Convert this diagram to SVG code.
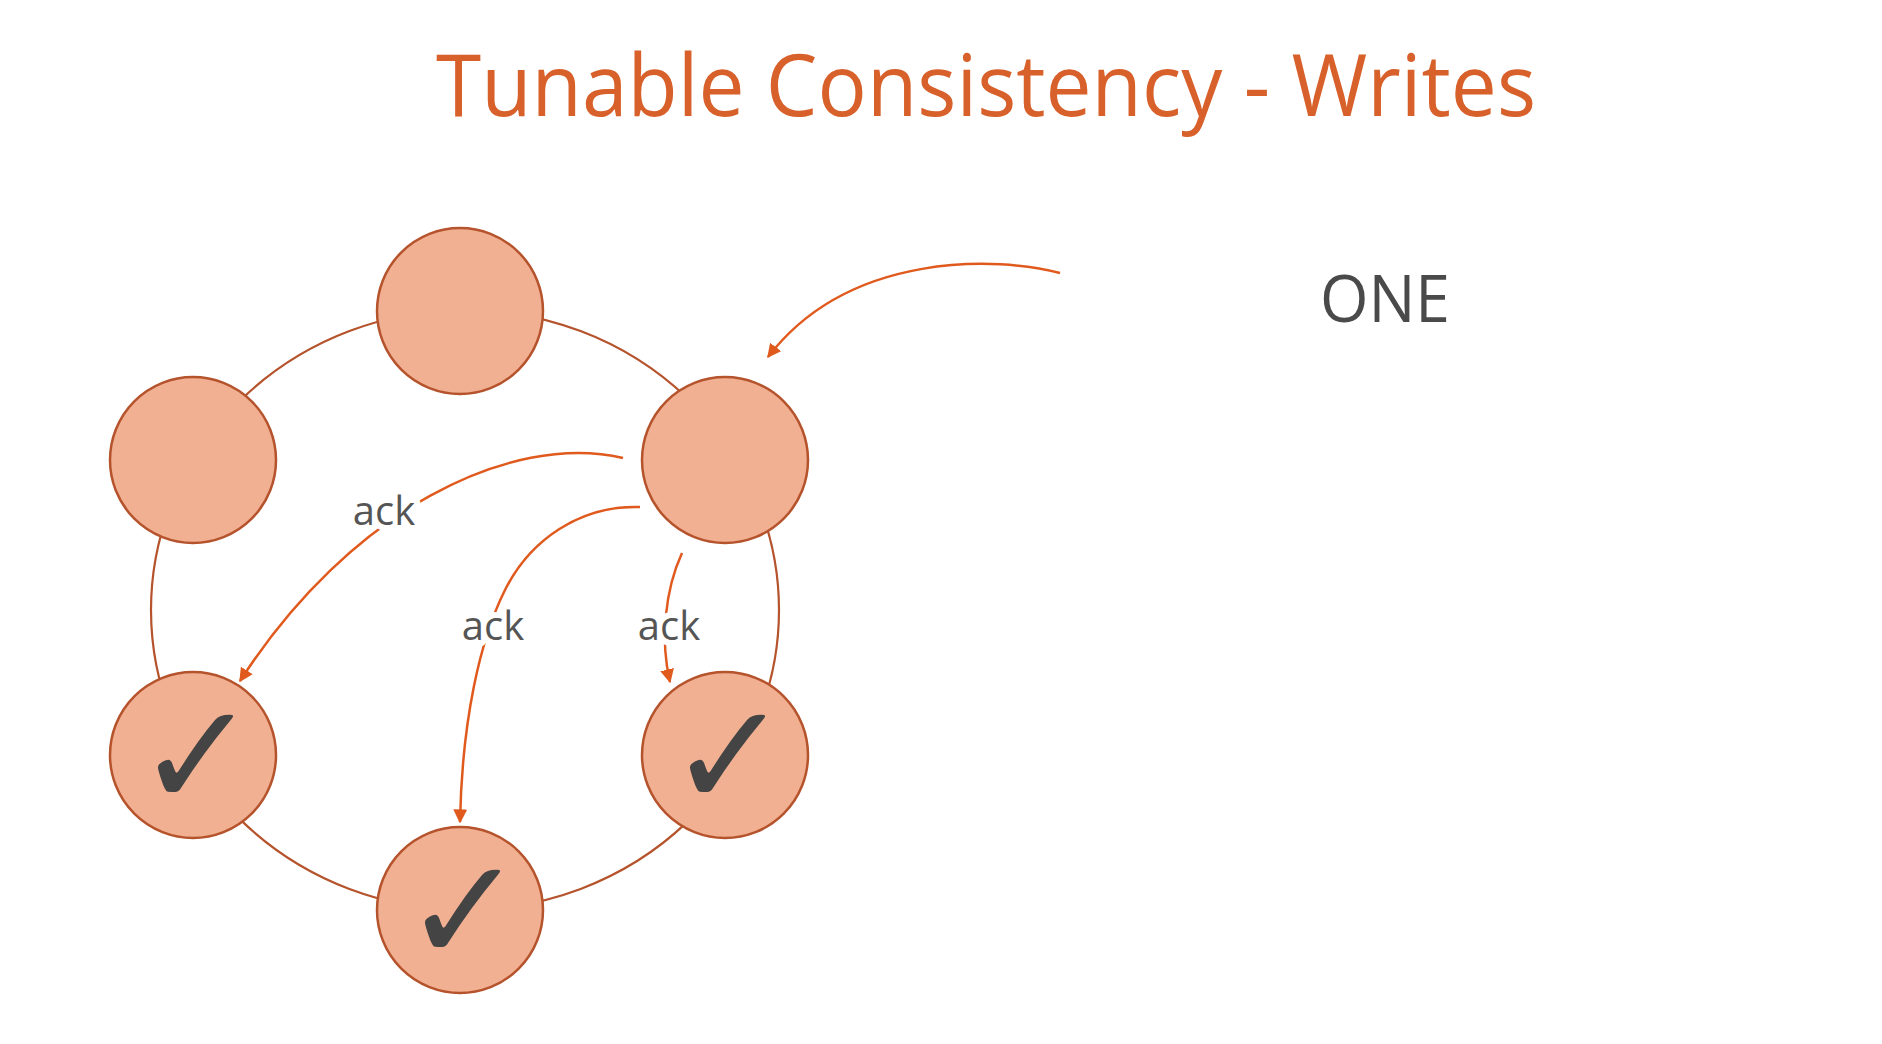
<svg xmlns="http://www.w3.org/2000/svg" width="1882" height="1044" viewBox="0 0 1882 1044">
<style>
.node{fill:#F1B092;stroke:#B5532C;stroke-width:2.5}
.ring{fill:none;stroke:#B5532C;stroke-width:2.2}
.arr{fill:none;stroke:#E05A1E;stroke-width:2.5;marker-end:url(#ah)}
.lbl{font-family:"Open Sans","Noto Sans",sans-serif;font-size:40px;fill:#555555;text-anchor:middle;stroke:#ffffff;stroke-width:12;stroke-linejoin:round;paint-order:stroke}
.chk{font-family:"DejaVu Sans",sans-serif;font-size:145px;fill:#444444;text-anchor:middle}
</style>
<defs>
<marker id="ah" viewBox="0 0 10 10" refX="9" refY="5" markerWidth="14" markerHeight="14" markerUnits="userSpaceOnUse" orient="auto">
<path d="M0,0 L10,5 L0,10 z" fill="#E05A1E"/>
</marker>
</defs>
<rect width="1882" height="1044" fill="#ffffff"/>
<text x="986" y="116" font-family="'Open Sans','Noto Sans',sans-serif" font-size="86" fill="#D8602A" text-anchor="middle" textLength="1100" lengthAdjust="spacingAndGlyphs">Tunable Consistency - Writes</text>
<g id="connectors">
<ellipse class="ring" cx="465" cy="610" rx="314" ry="300"/>
<path class="arr" d="M1060,273 C1000,257 850,250 768,357"/>
<path class="arr" d="M623,458 C510,432 350,510 240,681"/>
<path class="arr" d="M640,507 C580,505 530,540 505,590 C480,640 462,720 460,822"/>
<path class="arr" d="M682,553 C665,590 660,640 670,682"/>
</g>
<g id="node-top"><circle class="node" cx="460" cy="311" r="83"/></g>
<g id="node-upper-left"><circle class="node" cx="193" cy="460" r="83"/></g>
<g id="node-upper-right"><circle class="node" cx="725" cy="460" r="83"/></g>
<g id="node-lower-left"><circle class="node" cx="193" cy="755" r="83"/><text class="chk" x="197" y="806">✓</text></g>
<g id="node-lower-right"><circle class="node" cx="725" cy="755" r="83"/><text class="chk" x="729" y="806">✓</text></g>
<g id="node-bottom"><circle class="node" cx="460" cy="910" r="83"/><text class="chk" x="464" y="961">✓</text></g>
<g id="labels">
<text class="lbl" x="384" y="525">ack</text>
<text class="lbl" x="493" y="640">ack</text>
<text class="lbl" x="669" y="640">ack</text>
<text x="1385" y="322" font-family="'Open Sans','Noto Sans',sans-serif" font-size="66" fill="#4A4A4A" text-anchor="middle" textLength="130" lengthAdjust="spacingAndGlyphs">ONE</text>
</g>
</svg>
